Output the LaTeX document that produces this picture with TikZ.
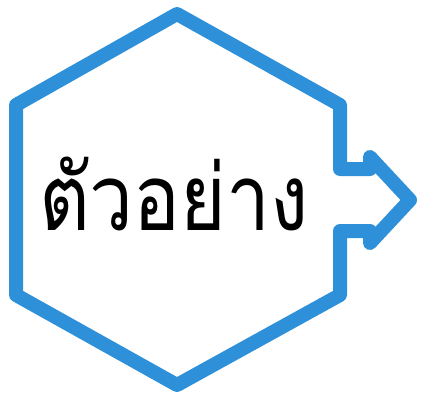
\documentclass[tikz,border=0pt]{standalone}
\usepackage{fontspec}
\newfontfamily\thaifont[Script=Thai]{Loma}
\definecolor{hexblue}{RGB}{46,144,216}
\begin{document}
\begin{tikzpicture}[x=0.5pt, y=-0.5pt,
  outline/.style={draw=hexblue, line width=7pt, line join=round, line cap=round},
  lab/.style={font=\thaifont\fontsize{46}{52}\selectfont, inner sep=0pt}]
  \useasboundingbox (0,0) rectangle (423,396);
  \draw[outline] (340,169) -- (340,105) -- (177,14) -- (16,105) -- (16,295)
    -- (177,385) -- (340,295) -- (340,231) -- (370,231) -- (370,243)
    -- (410,200) -- (370,157) -- (370,169) -- cycle;
  \node[lab, anchor=base, xscale=0.85, transform shape] (word) at (174,230) {ตัวอย่าง};
\end{tikzpicture}
\end{document}
